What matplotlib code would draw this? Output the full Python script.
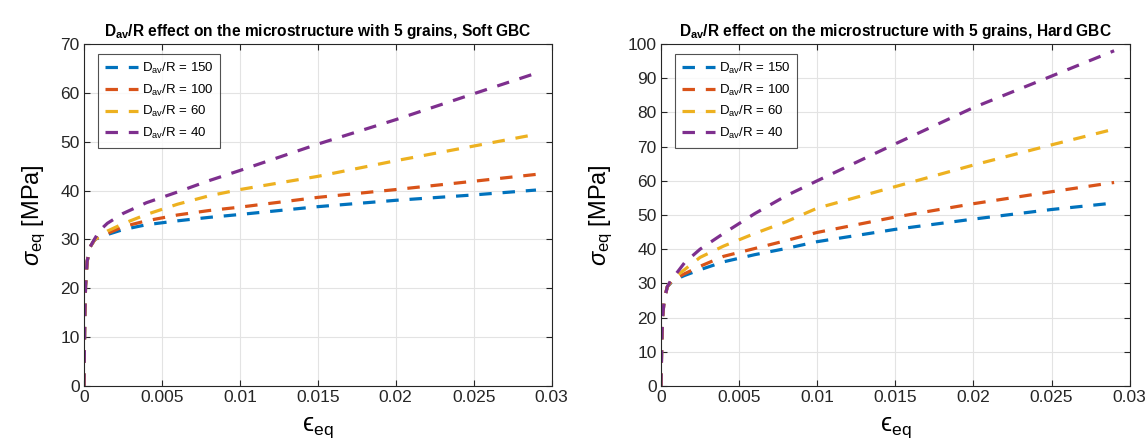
"""
Stress-strain curves: effect of D_av/R on a 5-grain microstructure,
soft vs hard grain boundary condition (MATLAB-style figure).
"""

import matplotlib
matplotlib.use("Agg")  # non-interactive backend
import matplotlib.pyplot as plt

plt.rcParams["font.family"] = ["Liberation Sans", "DejaVu Sans"]
plt.rcParams["mathtext.fontset"] = "custom"
plt.rcParams["mathtext.rm"] = "Liberation Sans"
plt.rcParams["mathtext.it"] = "Liberation Sans:italic"
plt.rcParams["mathtext.bf"] = "Liberation Sans:bold"

# ---- data ----
strain = [0, 0.00005, 0.0001, 0.0002, 0.0004, 0.0007, 0.001, 0.0015, 0.0025,
          0.004, 0.006, 0.008, 0.01, 0.015, 0.02, 0.025, 0.029]

ratios = [150, 100, 60, 40]

soft_150 = [0, 14, 20.5, 25.5, 28.5, 30.0, 30.4, 31.0, 32.0, 33.0, 33.8, 34.5,
            35.1, 36.7, 38.0, 39.1, 40.1]
soft_100 = [0, 14, 20.5, 25.5, 28.5, 30.0, 30.5, 31.2, 32.6, 33.8, 35.0, 35.9,
            36.6, 38.6, 40.2, 41.9, 43.3]
soft_60 = [0, 14, 20.5, 25.5, 28.5, 30.0, 30.6, 31.7, 33.2, 35.1, 37.2, 38.9,
           40.2, 42.9, 46.1, 49.1, 51.5]
soft_40 = [0, 14, 20.5, 25.5, 28.5, 30.2, 31.8, 33.3, 35.3, 37.5, 39.7, 42.0,
           44.1, 49.5, 54.5, 59.8, 64.0]

hard_150 = [0, 13, 20, 25, 29.0, 30.5, 31.3, 32.3, 34.0, 36.3, 38.4, 40.2,
            42.2, 45.8, 48.8, 51.6, 53.5]
hard_100 = [0, 13, 20, 25, 29.0, 30.7, 31.6, 32.8, 35.0, 37.9, 40.2, 42.5,
            44.9, 49.4, 53.3, 56.8, 59.5]
hard_60 = [0, 13, 20, 25, 29.0, 31.0, 32.2, 34.0, 37.6, 40.9, 44.6, 48.0,
           52.0, 58.3, 64.6, 70.5, 75.1]
hard_40 = [0, 13, 20, 25, 29.0, 31.5, 33.0, 36.0, 40.0, 44.6, 50.4, 55.6,
           60.0, 70.8, 81.4, 90.6, 98.0]

soft_series = [soft_150, soft_100, soft_60, soft_40]
hard_series = [hard_150, hard_100, hard_60, hard_40]

colors = ["#0072BD", "#D95319", "#EDB120", "#7E2F8E"]
x_ticks = [0, 0.005, 0.01, 0.015, 0.02, 0.025, 0.03]
x_tick_labels = ["0", "0.005", "0.01", "0.015", "0.02", "0.025", "0.03"]


def _draw_panel(ax, series, y_max, title):
    for vals, r, c in zip(series, ratios, colors):
        ax.plot(strain, vals, color=c, lw=2.3, linestyle=(0, (3.9, 3.4)),
                label=r"D$_{\mathregular{av}}$/R = %d" % r)
    ax.set_xlim(0, 0.03)
    ax.set_ylim(0, y_max)
    ax.set_xticks(x_ticks)
    ax.set_xticklabels(x_tick_labels)
    ax.set_yticks(range(0, y_max + 1, 10))
    ax.grid(True, color="#e3e3e3", lw=0.8)
    ax.set_axisbelow(True)
    ax.tick_params(direction="in", top=True, right=True, labelsize=12.5,
                   colors="#262626", length=4, width=0.8, pad=3)
    for sp in ax.spines.values():
        sp.set_color("#262626")
        sp.set_linewidth(0.8)
    ax.set_xlabel("ϵ" + r"$_{\mathregular{eq}}$", fontsize=18, labelpad=7)
    ax.set_ylabel(r"$\sigma_{\mathregular{eq}}$ [MPa]", fontsize=17, labelpad=9)
    ax.set_title(title, fontsize=11.2, fontweight="bold", pad=6)
    leg = ax.legend(loc="upper left", fontsize=9.5, frameon=True, fancybox=False,
                    edgecolor="#262626", handlelength=2.5, handletextpad=0.3,
                    borderpad=0.5, labelspacing=0.5, borderaxespad=0.0,
                    bbox_to_anchor=(0.03, 0.97))
    leg.get_frame().set_linewidth(0.8)


fig = plt.figure(figsize=(11.46, 4.46), dpi=100)
ax1 = fig.add_axes([0.0733, 0.1345, 0.408, 0.767])
ax2 = fig.add_axes([0.5768, 0.1345, 0.409, 0.767])

_draw_panel(ax1, soft_series, 70,
            r"D$_{\mathbf{av}}$/R effect on the microstructure with 5 grains, Soft GBC")
_draw_panel(ax2, hard_series, 100,
            r"D$_{\mathbf{av}}$/R effect on the microstructure with 5 grains, Hard GBC")

fig.savefig("out.png", dpi=100, facecolor="white")
plt.close(fig)
